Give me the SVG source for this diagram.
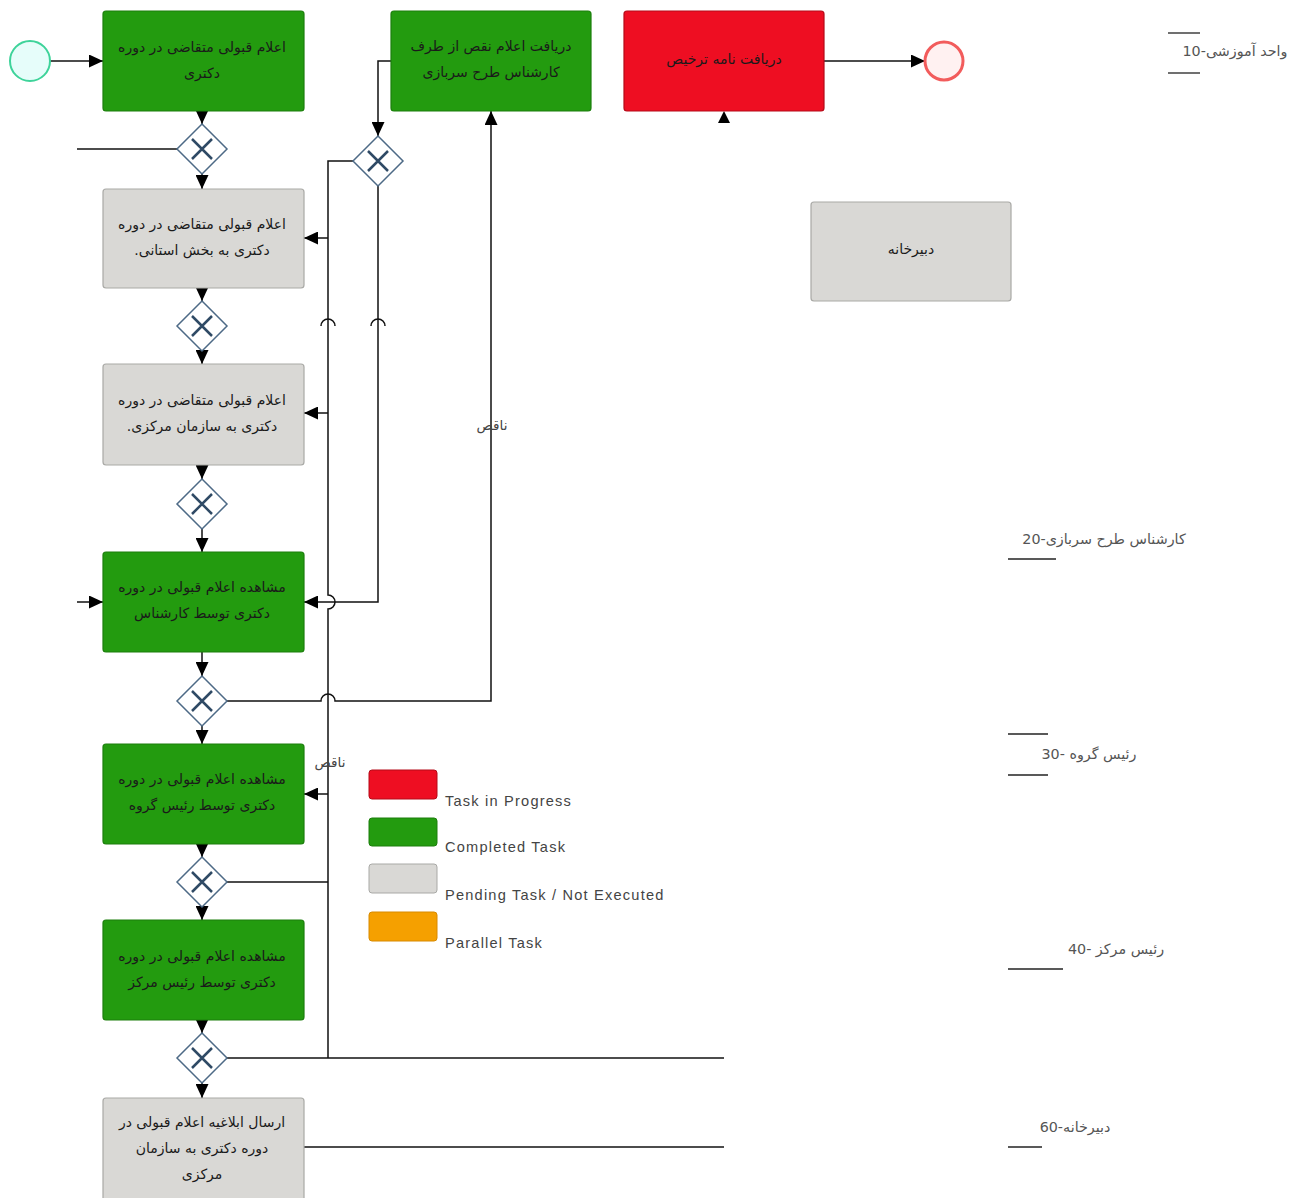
<svg xmlns="http://www.w3.org/2000/svg" width="1303" height="1198" viewBox="0 0 1303 1198">
<style>
.bg{fill:#ffffff}
.task{stroke-width:1.2}
.green{fill:#239b0f;stroke:#1c7f0c}
.red{fill:#ee0e22;stroke:#b50a18}
.gray{fill:#d9d8d5;stroke:#a9a9a6}
.orange{fill:#f5a000;stroke:#d88a00}
.tt{font-family:"DejaVu Sans",sans-serif;font-size:14px;fill:#1a1a1a;text-anchor:middle;dominant-baseline:central;direction:rtl}
.gw{fill:#ffffff;stroke:#4d6a86;stroke-width:1.5}
.gx{stroke:#2f4a65;stroke-width:2.5;fill:none}
.ln{stroke:#111;stroke-width:1.5;fill:none}
.lg{font-family:"Liberation Sans",Arial,sans-serif;font-size:14.6px;fill:#444;letter-spacing:1.2px}
.lane{font-family:"DejaVu Sans",sans-serif;font-size:14.3px;fill:#555;text-anchor:middle;direction:rtl}
.lbl{font-family:"DejaVu Sans",sans-serif;font-size:13.5px;fill:#444;text-anchor:middle;direction:rtl}
.ll{stroke:#222;stroke-width:1.3}
</style>
<defs>
<marker id="arr" markerUnits="userSpaceOnUse" markerWidth="14" markerHeight="13" refX="14" refY="6.5" orient="auto">
<path d="M0,0 L14,6.5 L0,13 z" fill="#000"/>
</marker>
<g id="gwshape">
<polygon class="gw" points="0,-25 25,0 0,25 -25,0"/>
<path class="gx" d="M-10,-10 L10,10 M10,-10 L-10,10"/>
</g>
</defs>
<rect class="bg" x="0" y="0" width="1303" height="1198"/>

<g id="connectors">
<line class="ln" x1="50" y1="61" x2="103" y2="61" marker-end="url(#arr)"/>
<line class="ln" x1="202" y1="111" x2="202" y2="124" marker-end="url(#arr)"/>
<line class="ln" x1="77" y1="149" x2="177" y2="149"/>
<line class="ln" x1="202" y1="174" x2="202" y2="189" marker-end="url(#arr)"/>
<line class="ln" x1="202" y1="288" x2="202" y2="301" marker-end="url(#arr)"/>
<line class="ln" x1="202" y1="351" x2="202" y2="364" marker-end="url(#arr)"/>
<line class="ln" x1="202" y1="465" x2="202" y2="479" marker-end="url(#arr)"/>
<line class="ln" x1="202" y1="529" x2="202" y2="552" marker-end="url(#arr)"/>
<line class="ln" x1="202" y1="652" x2="202" y2="676" marker-end="url(#arr)"/>
<line class="ln" x1="202" y1="726" x2="202" y2="744" marker-end="url(#arr)"/>
<line class="ln" x1="202" y1="844" x2="202" y2="857" marker-end="url(#arr)"/>
<line class="ln" x1="202" y1="907" x2="202" y2="920" marker-end="url(#arr)"/>
<line class="ln" x1="202" y1="1020" x2="202" y2="1033" marker-end="url(#arr)"/>
<line class="ln" x1="202" y1="1083" x2="202" y2="1098" marker-end="url(#arr)"/>
<line class="ln" x1="77" y1="602" x2="103" y2="602" marker-end="url(#arr)"/>
<polyline class="ln" points="391,61 378,61 378,136" marker-end="url(#arr)"/>
<path class="ln" d="M353,161 L328,161 L328,595 A7,7 0 0 1 328,609 L328,1058"/>
<line class="ln" x1="328" y1="238" x2="304" y2="238" marker-end="url(#arr)"/>
<line class="ln" x1="328" y1="413" x2="304" y2="413" marker-end="url(#arr)"/>
<line class="ln" x1="328" y1="794" x2="304" y2="794" marker-end="url(#arr)"/>
<polyline class="ln" points="378,186 378,602 304,602" marker-end="url(#arr)"/>
<path class="ln" d="M321,326 A7,7 0 0 1 335,326"/>
<path class="ln" d="M371,326 A7,7 0 0 1 385,326"/>
<path class="ln" d="M227,701 L321,701 A7,7 0 0 1 335,701 L491,701 L491,111" marker-end="url(#arr)"/>
<line class="ln" x1="227" y1="882" x2="328" y2="882"/>
<line class="ln" x1="227" y1="1058" x2="724" y2="1058"/>
<line class="ln" x1="304" y1="1147" x2="724" y2="1147"/>
<polygon points="718,123 724,111 730,123" fill="#000"/>
<line class="ln" x1="824" y1="61" x2="925" y2="61" marker-end="url(#arr)"/>
<text class="lbl" x="492" y="430">ناقص</text>
<text class="lbl" x="330" y="767">ناقص</text>
</g>

<g id="start"><circle cx="30" cy="61" r="20" fill="#e6fdfa" stroke="#3ed39a" stroke-width="2"/></g>
<g id="end"><circle cx="944" cy="61" r="19" fill="#fff1f1" stroke="#f25c5c" stroke-width="3"/></g>

<g id="task1"><rect class="task green" x="103" y="11" width="201" height="100" rx="3"/>
<text class="tt" x="202" y="47">اعلام قبولی متقاضی در دوره</text><text class="tt" x="202" y="73">دکتری</text></g>
<g id="task-naqs"><rect class="task green" x="391" y="11" width="200" height="100" rx="3"/>
<text class="tt" x="491" y="46">دریافت اعلام نقص از طرف</text><text class="tt" x="491" y="72">کارشناس طرح سربازی</text></g>
<g id="task-tarkhis"><rect class="task red" x="624" y="11" width="200" height="100" rx="3"/>
<text class="tt" x="724" y="59">دریافت نامه ترخیص</text></g>
<g id="task-dabir-right"><rect class="task gray" x="811" y="202" width="200" height="99" rx="3"/>
<text class="tt" x="911" y="249">دبیرخانه</text></g>
<g id="task2"><rect class="task gray" x="103" y="189" width="201" height="99" rx="3"/>
<text class="tt" x="202" y="224">اعلام قبولی متقاضی در دوره</text><text class="tt" x="202" y="250">دکتری به بخش استانی.</text></g>
<g id="task3"><rect class="task gray" x="103" y="364" width="201" height="101" rx="3"/>
<text class="tt" x="202" y="400">اعلام قبولی متقاضی در دوره</text><text class="tt" x="202" y="426">دکتری به سازمان مرکزی.</text></g>
<g id="task4"><rect class="task green" x="103" y="552" width="201" height="100" rx="3"/>
<text class="tt" x="202" y="587">مشاهده اعلام قبولی در دوره</text><text class="tt" x="202" y="613">دکتری توسط کارشناس</text></g>
<g id="task5"><rect class="task green" x="103" y="744" width="201" height="100" rx="3"/>
<text class="tt" x="202" y="779">مشاهده اعلام قبولی در دوره</text><text class="tt" x="202" y="805">دکتری توسط رئیس گروه</text></g>
<g id="task6"><rect class="task green" x="103" y="920" width="201" height="100" rx="3"/>
<text class="tt" x="202" y="956">مشاهده اعلام قبولی در دوره</text><text class="tt" x="202" y="982">دکتری توسط رئیس مرکز</text></g>
<g id="task7"><rect class="task gray" x="103" y="1098" width="201" height="104" rx="3"/>
<text class="tt" x="202" y="1122">ارسال ابلاغیه اعلام قبولی در</text><text class="tt" x="202" y="1148">دوره دکتری به سازمان</text><text class="tt" x="202" y="1174">مرکزی</text></g>

<g id="gw1"><use href="#gwshape" x="202" y="149"/></g>
<g id="gw2"><use href="#gwshape" x="202" y="326"/></g>
<g id="gw3"><use href="#gwshape" x="202" y="504"/></g>
<g id="gw4"><use href="#gwshape" x="202" y="701"/></g>
<g id="gw5"><use href="#gwshape" x="202" y="882"/></g>
<g id="gw6"><use href="#gwshape" x="202" y="1058"/></g>
<g id="gw7"><use href="#gwshape" x="378" y="161"/></g>

<g id="legend">
<rect class="red" x="369" y="770" width="68" height="29" rx="3"/>
<text class="lg" x="445" y="806">Task in Progress</text>
<rect class="green" x="369" y="818" width="68" height="28" rx="3"/>
<text class="lg" x="445" y="852">Completed Task</text>
<rect class="gray" x="369" y="864" width="68" height="29" rx="3"/>
<text class="lg" x="445" y="900">Pending Task / Not Executed</text>
<rect class="orange" x="369" y="912" width="68" height="29" rx="3"/>
<text class="lg" x="445" y="948">Parallel Task</text>
</g>

<g id="lanes">
<line class="ll" x1="1168" y1="33" x2="1200" y2="33"/>
<line class="ll" x1="1168" y1="73" x2="1200" y2="73"/>
<text class="lane" x="1235" y="56">واحد آموزشی-10</text>
<line class="ll" x1="1008" y1="559" x2="1056" y2="559"/>
<text class="lane" x="1104" y="544">کارشناس طرح سربازی-20</text>
<line class="ll" x1="1008" y1="734" x2="1048" y2="734"/>
<line class="ll" x1="1008" y1="775" x2="1048" y2="775"/>
<text class="lane" x="1089" y="759">رئیس گروه -30</text>
<line class="ll" x1="1008" y1="969" x2="1063" y2="969"/>
<text class="lane" x="1116" y="954">رئیس مرکز -40</text>
<line class="ll" x1="1008" y1="1147" x2="1042" y2="1147"/>
<text class="lane" x="1075" y="1132">دبیرخانه-60</text>
</g>
</svg>
